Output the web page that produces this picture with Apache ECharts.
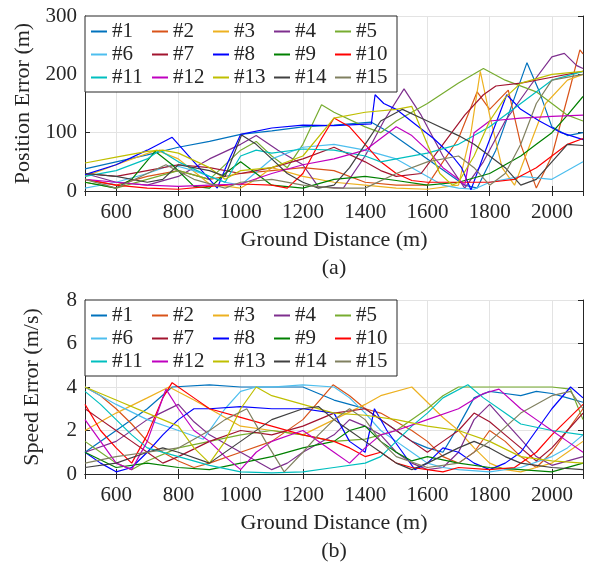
<!DOCTYPE html>
<html>
<head>
<meta charset="utf-8">
<script src="https://cdn.jsdelivr.net/npm/echarts@6/dist/echarts.min.js"></script>
<style>
html, body { margin: 0; padding: 0; background: #fff; }
#chart { width: 590px; height: 564px; }
</style>
</head>
<body>
<div id="chart"></div>
<script>
var names = ['#1', '#2', '#3', '#4', '#5', '#6', '#7', '#8', '#9', '#10', '#11', '#12', '#13', '#14', '#15'];
var xTicks = [600, 800, 1000, 1200, 1400, 1600, 1800, 2000];

// (a) position error, [ground distance, error]
var pos01 = [[500,38],[600,50],[700,62],[800,75],[900,85],[1000,97],[1100,103],[1200,110],[1300,113],[1420,118],[1480,100],[1560,70],[1640,40],[1720,10],[1760,5],[1820,70],[1880,160],[1920,220],[1960,170],[2000,110],[2050,95],[2100,100]];
var pos02 = [[500,20],[600,10],[700,25],[800,35],[900,20],[1000,30],[1100,35],[1200,40],[1300,35],[1400,15],[1500,10],[1600,10],[1700,90],[1760,170],[1800,140],[1860,173],[1900,80],[1950,5],[2000,60],[2060,180],[2090,242],[2100,235]];
var pos03 = [[500,25],[600,45],[730,70],[800,55],[900,12],[1000,5],[1050,20],[1100,40],[1200,25],[1300,15],[1400,10],[1500,5],[1600,3],[1700,10],[1740,100],[1770,205],[1800,130],[1840,40],[1880,10],[1930,80],[1980,150],[2050,190],[2100,200]];
var pos04 = [[500,30],[600,15],[700,10],[800,25],[900,55],[1000,80],[1050,95],[1120,70],[1200,45],[1250,7],[1330,5],[1400,60],[1460,120],[1525,175],[1580,130],[1650,60],[1720,5],[1780,50],[1850,120],[1930,180],[2000,230],[2040,236],[2080,215],[2100,210]];
var pos05 = [[500,15],[600,5],[700,20],[800,35],[900,20],[1000,70],[1050,85],[1100,60],[1150,40],[1200,80],[1260,148],[1300,135],[1400,110],[1450,100],[1500,120],[1600,150],[1700,185],[1780,210],[1850,190],[1950,170],[2000,150],[2050,130],[2100,120]];
var pos06 = [[500,5],[600,15],[700,30],[780,45],[850,35],[950,15],[1000,10],[1100,55],[1200,75],[1300,80],[1400,70],[1500,55],[1550,40],[1600,25],[1650,10],[1700,5],[1750,3],[1800,15],[1900,25],[2000,20],[2050,35],[2100,50]];
var pos07 = [[500,30],[600,25],[700,35],[800,45],[900,40],[1000,30],[1100,40],[1200,55],[1300,75],[1400,50],[1450,35],[1500,25],[1580,30],[1650,80],[1720,130],[1780,165],[1820,180],[1900,185],[2000,195],[2100,205]];
var pos08 = [[500,28],[600,45],[700,70],[780,92],[850,50],[925,5],[960,50],[1000,97],[1100,108],[1200,113],[1300,112],[1420,115],[1432,165],[1460,150],[1500,140],[1560,115],[1620,90],[1680,60],[1710,40],[1740,2],[1780,60],[1830,130],[1855,165],[1900,140],[1960,120],[2030,100],[2100,88]];
var pos09 = [[500,15],[600,5],[650,20],[725,68],[780,45],[850,8],[900,5],[950,30],[1000,50],[1050,30],[1100,10],[1200,5],[1300,20],[1400,25],[1500,18],[1600,10],[1700,15],[1800,30],[1850,45],[1900,60],[1950,80],[2000,100],[2050,130],[2100,162]];
var pos10 = [[500,20],[600,10],[700,5],[800,3],[900,8],[1000,12],[1100,10],[1150,5],[1200,30],[1260,90],[1300,125],[1350,110],[1400,80],[1450,50],[1500,30],[1550,18],[1600,15],[1700,15],[1800,15],[1880,20],[1950,40],[2000,60],[2050,80],[2100,90]];
var pos11 = [[500,25],[600,35],[700,55],[740,70],[800,50],[900,25],[950,15],[1000,60],[1050,70],[1100,65],[1200,72],[1300,70],[1400,60],[1450,50],[1500,55],[1600,65],[1700,80],[1800,110],[1900,150],[2000,190],[2100,205]];
var pos12 = [[500,20],[600,15],[700,10],[800,8],[900,10],[1000,12],[1100,30],[1200,45],[1300,55],[1400,70],[1450,90],[1500,110],[1550,95],[1600,70],[1650,40],[1700,20],[1720,10],[1750,100],[1800,120],[1900,125],[2000,128],[2100,130]];
var pos13 = [[500,48],[600,58],[700,68],[750,70],[800,65],[900,40],[950,20],[1000,35],[1100,40],[1200,60],[1300,125],[1400,135],[1500,140],[1550,145],[1600,80],[1640,30],[1680,10],[1700,15],[1750,60],[1800,120],[1850,160],[1900,185],[2000,200],[2100,205]];
var pos14 = [[500,30],[600,25],[700,15],[750,20],[800,45],[900,35],[950,25],[1003,96],[1050,80],[1100,55],[1150,30],[1200,15],[1250,5],[1300,10],[1350,40],[1400,80],[1450,120],[1520,140],[1600,120],[1700,95],[1750,80],[1800,60],[1850,40],[1900,10],[1950,20],[2000,50],[2050,80],[2100,78]];
var pos15 = [[500,20],[600,5],[700,30],[760,45],[850,20],[950,5],[1000,15],[1100,20],[1200,10],[1300,5],[1400,5],[1500,30],[1600,50],[1700,60],[1750,40],[1800,10],[1850,30],[1900,80],[1950,150],[2000,190],[2100,200]];

// (b) speed error, [ground distance, error]
var spd01 = [[500,1.0],[600,2.0],[700,3.0],[780,4.0],[900,4.1],[1000,4.0],[1100,4.0],[1200,4.0],[1300,3.4],[1350,3.2],[1400,3.0],[1450,2.5],[1500,2.0],[1550,1.5],[1600,1.2],[1650,1.0],[1700,2.2],[1750,3.5],[1800,3.8],[1850,3.7],[1900,3.6],[1950,3.8],[2000,3.7],[2050,3.5],[2100,3.3]];
var spd02 = [[500,4.0],[550,3.6],[600,3.0],[650,2.3],[700,1.5],[750,1.0],[800,0.6],[850,0.3],[900,0.5],[1000,1.0],[1100,1.5],[1200,2.5],[1297,4.1],[1350,3.6],[1400,3.0],[1450,2.8],[1500,2.4],[1550,2.0],[1600,1.5],[1650,0.8],[1700,0.5],[1750,1.0],[1800,2.0],[1850,1.5],[1900,0.8],[1950,0.3],[2000,1.0],[2050,2.0],[2100,3.0]];
var spd03 = [[500,2.0],[600,2.8],[700,3.5],[770,4.0],[850,3.4],[900,3.0],[950,2.6],[1000,2.2],[1100,2.0],[1200,1.8],[1300,2.5],[1400,3.2],[1450,3.6],[1550,4.0],[1600,3.3],[1650,2.6],[1700,2.0],[1750,1.2],[1800,0.5],[1850,0.2],[1900,0.1],[1950,0.3],[2000,0.5],[2050,1.0],[2100,1.5]];
var spd04 = [[500,1.0],[600,1.5],[700,2.5],[800,3.2],[850,2.4],[900,1.8],[1000,1.0],[1100,0.2],[1150,0.5],[1200,1.0],[1300,1.8],[1350,2.5],[1400,2.2],[1450,1.8],[1500,1.0],[1550,0.5],[1600,0.2],[1650,0.3],[1700,1.0],[1750,2.5],[1800,3.2],[1850,2.4],[1900,1.6],[1950,0.8],[2000,0.4],[2100,0.8]];
var spd05 = [[500,1.5],[550,1.0],[600,0.5],[650,0.2],[700,0.6],[800,1.2],[900,1.5],[1000,1.8],[1100,2.0],[1200,1.8],[1300,1.5],[1400,1.6],[1500,2.0],[1600,3.0],[1650,3.6],[1700,4.0],[1800,4.0],[1900,4.0],[2000,4.0],[2060,3.9],[2100,2.5]];
var spd06 = [[500,4.0],[600,3.2],[700,2.5],[800,2.0],[880,1.6],[950,3.0],[1000,3.8],[1050,4.0],[1100,4.0],[1200,4.1],[1300,4.0],[1350,3.5],[1400,2.8],[1450,2.0],[1500,1.5],[1550,1.0],[1600,0.5],[1650,0.3],[1700,0.2],[1800,0.1],[1900,0.3],[2000,0.8],[2050,1.2],[2100,1.8]];
var spd07 = [[500,3.0],[550,2.5],[600,2.0],[650,1.5],[700,1.0],[750,0.5],[800,0.8],[900,1.5],[1000,2.0],[1100,1.8],[1200,2.2],[1300,2.8],[1400,3.0],[1450,2.5],[1500,2.0],[1550,1.5],[1600,1.0],[1650,1.5],[1700,2.0],[1750,2.8],[1800,2.4],[1850,1.8],[1900,1.2],[1950,0.6],[2000,1.2],[2050,2.0],[2100,2.8]];
var spd08 = [[500,1.0],[550,0.5],[600,0.1],[650,0.3],[700,1.0],[750,1.8],[800,2.5],[850,3.0],[900,3.0],[1000,3.1],[1100,3.0],[1200,3.0],[1300,2.8],[1350,1.5],[1400,1.0],[1430,3.0],[1470,2.0],[1520,1.0],[1560,0.2],[1600,0.5],[1650,1.2],[1700,1.0],[1750,0.5],[1800,0.2],[1850,0.5],[1900,1.0],[1950,2.0],[2000,3.0],[2060,4.0],[2100,3.5]];
var spd09 = [[500,1.0],[600,0.3],[700,0.5],[800,0.3],[900,0.2],[1000,0.5],[1100,0.8],[1200,1.2],[1300,1.5],[1350,2.0],[1400,2.2],[1450,1.5],[1500,1.0],[1550,0.6],[1600,0.8],[1700,0.5],[1800,0.3],[1900,0.2],[2000,0.1],[2100,0.5]];
var spd10 = [[500,3.2],[550,2.0],[600,1.2],[650,0.5],[700,1.8],[750,3.5],[780,4.2],[850,3.5],[900,3.0],[1000,2.6],[1100,2.2],[1200,1.8],[1300,1.5],[1350,1.2],[1400,0.8],[1450,1.0],[1500,0.5],[1550,0.3],[1600,0.2],[1650,0.1],[1700,0.3],[1800,0.2],[1880,0.3],[1950,1.0],[2000,1.8],[2050,2.5],[2100,3.2]];
var spd11 = [[500,3.8],[550,3.2],[600,2.5],[650,1.8],[700,1.2],[800,0.8],[900,0.4],[1000,0.1],[1100,0.05],[1200,0.1],[1300,0.3],[1400,0.5],[1450,0.8],[1500,1.5],[1550,2.2],[1600,2.8],[1650,3.5],[1730,4.1],[1780,3.5],[1850,2.8],[1900,2.3],[2000,2.0],[2100,1.8]];
var spd12 = [[500,2.5],[550,1.5],[600,0.5],[650,0.2],[700,1.5],[760,3.9],[800,3.0],[850,2.0],[900,1.5],[950,0.8],[1000,0.2],[1050,1.0],[1100,1.5],[1200,2.0],[1300,1.0],[1350,0.5],[1400,1.2],[1450,1.8],[1500,2.0],[1600,2.5],[1700,3.0],[1780,3.7],[1830,3.9],[1900,3.0],[1950,2.5],[2000,2.0],[2050,1.5],[2100,1.0]];
var spd13 = [[500,4.0],[600,3.4],[700,2.8],[800,2.2],[850,1.2],[900,0.5],[950,1.5],[1000,3.0],[1050,4.0],[1100,3.6],[1200,3.2],[1300,2.8],[1400,2.7],[1500,2.5],[1600,2.2],[1700,2.0],[1800,1.5],[1900,0.8],[2000,0.6],[2100,0.5]];
var spd14 = [[500,0.3],[600,0.5],[700,1.0],[750,1.2],[800,1.0],[900,0.5],[1000,1.5],[1100,2.5],[1200,3.0],[1250,3.1],[1300,2.5],[1350,2.0],[1400,1.5],[1450,1.0],[1500,0.5],[1550,0.2],[1600,0.5],[1700,1.2],[1750,1.5],[1800,1.2],[1850,0.8],[1900,0.5],[1950,0.4],[2000,0.3],[2100,0.2]];
var spd15 = [[500,0.5],[600,0.8],[700,1.0],[800,1.2],[900,2.0],[950,2.5],[1020,3.0],[1080,1.5],[1140,0.1],[1200,1.0],[1250,1.8],[1300,2.5],[1350,3.0],[1400,2.5],[1450,1.5],[1500,0.8],[1600,0.3],[1700,0.5],[1800,1.5],[1900,2.8],[2000,3.6],[2060,3.8],[2100,3.0]];

var posData = [pos01, pos02, pos03, pos04, pos05, pos06, pos07, pos08, pos09, pos10, pos11, pos12, pos13, pos14, pos15];
var spdData = [spd01, spd02, spd03, spd04, spd05, spd06, spd07, spd08, spd09, spd10, spd11, spd12, spd13, spd14, spd15];

var colors = ['#0072BD', '#D95319', '#EDB120', '#7E2F8E', '#77AC30', '#4DBEEE', '#A2142F',
	'#0000FF', '#008000', '#FF0000', '#00BFBF', '#BF00BF', '#BFBF00', '#404040', '#808060'];

var font = 'Liberation Serif';
var ink = '#262626';

function bottom_axis(gridIndex) {
	return {
		type: 'value', gridIndex: gridIndex, position: 'bottom',
		min: 500, max: 2100, splitNumber: 8,
		name: 'Ground Distance (m)', nameLocation: 'middle', nameGap: 38,
		nameTextStyle: { fontFamily: font, fontSize: 22, color: ink },
		axisLine: { show: true, lineStyle: { color: ink, width: 1 } },
		axisTick: { show: true, inside: true, length: 5, lineStyle: { color: ink } },
		axisLabel: {
			fontFamily: font, fontSize: 21, color: ink, margin: 11,
			showMinLabel: false, showMaxLabel: false,
			formatter: function(v) { return xTicks.indexOf(v) >= 0 ? String(v) : ''; }
		},
		splitLine: { show: true, lineStyle: { color: '#e3e3e3', width: 1 } }
	};
}

function top_axis(gridIndex) {
	return {
		type: 'value', gridIndex: gridIndex, position: 'top',
		min: 500, max: 2100, splitNumber: 8,
		axisLine: { show: true, lineStyle: { color: ink, width: 1 } },
		axisTick: { show: true, inside: true, length: 5, lineStyle: { color: ink } },
		axisLabel: { show: false },
		splitLine: { show: false }
	};
}

function left_axis(gridIndex, name, max, interval) {
	return {
		type: 'value', gridIndex: gridIndex, position: 'left',
		min: 0, max: max, interval: interval,
		name: name, nameLocation: 'middle', nameGap: 42,
		nameTextStyle: { fontFamily: font, fontSize: 22, color: ink },
		axisLine: { show: true, lineStyle: { color: ink, width: 1 } },
		axisTick: { show: true, inside: true, length: 5, lineStyle: { color: ink } },
		axisLabel: { fontFamily: font, fontSize: 21, color: ink, margin: 8 },
		splitLine: { show: true, lineStyle: { color: '#e3e3e3', width: 1 } }
	};
}

function right_axis(gridIndex, max, interval) {
	return {
		type: 'value', gridIndex: gridIndex, position: 'right',
		min: 0, max: max, interval: interval,
		axisLine: { show: true, lineStyle: { color: ink, width: 1 } },
		axisTick: { show: true, inside: true, length: 5, lineStyle: { color: ink } },
		axisLabel: { show: false },
		splitLine: { show: false }
	};
}

function make_legend(top) {
	return {
		data: names, left: 85, top: top, width: 310,
		orient: 'horizontal', itemGap: 0,
		icon: 'rect', itemWidth: 16, itemHeight: 2,
		padding: [4, 1, 3, 6],
		backgroundColor: '#fff', borderColor: ink, borderWidth: 1,
		textStyle: { fontFamily: font, fontSize: 21, color: ink, width: 40, lineHeight: 23 },
		selectedMode: false
	};
}

var series = [];
for (var i = 0; i < names.length; i++) {
	series.push({
		name: names[i], type: 'line', xAxisIndex: 0, yAxisIndex: 0,
		data: posData[i], symbol: 'none', color: colors[i],
		lineStyle: { width: 1.2 }, animation: false
	});
}
for (var j = 0; j < names.length; j++) {
	series.push({
		name: names[j], type: 'line', xAxisIndex: 2, yAxisIndex: 2,
		data: spdData[j], symbol: 'none', color: colors[j],
		lineStyle: { width: 1.2 }, animation: false
	});
}

var mychart = echarts.init(document.getElementById('chart'));

var option = {
	backgroundColor: '#fff',
	animation: false,
	grid: [
		{ left: 85, top: 16, width: 498, height: 175 },
		{ left: 85, top: 300, width: 498, height: 174 }
	],
	xAxis: [bottom_axis(0), top_axis(0), bottom_axis(1), top_axis(1)],
	yAxis: [
		left_axis(0, 'Position Error (m)', 300, 100), right_axis(0, 300, 100),
		left_axis(1, 'Speed Error (m/s)', 8, 2), right_axis(1, 8, 2)
	],
	legend: [make_legend(16), make_legend(300)],
	graphic: [
		{ type: 'text', x: 334, y: 268, style: { text: '(a)', fontFamily: font, fontSize: 22, fill: ink, align: 'center', verticalAlign: 'middle' } },
		{ type: 'text', x: 334, y: 551, style: { text: '(b)', fontFamily: font, fontSize: 22, fill: ink, align: 'center', verticalAlign: 'middle' } }
	],
	series: series
};

mychart.setOption(option);
</script>
</body>
</html>
